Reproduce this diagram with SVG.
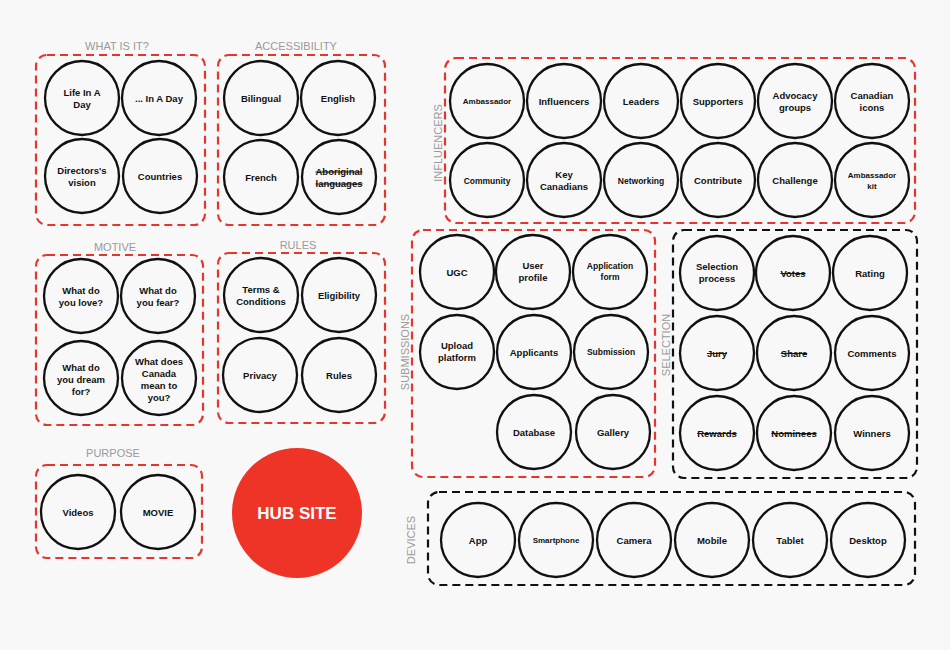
<svg xmlns="http://www.w3.org/2000/svg" width="950" height="650" viewBox="0 0 950 650">
<style>
.bg{fill:#f8f8f8}
.box{fill:none;stroke:#e8352c;stroke-width:2.2;stroke-dasharray:8 5}
.boxk{fill:none;stroke:#111;stroke-width:2.2;stroke-dasharray:8 5}
.c{fill:#f8f8f8;stroke:#111;stroke-width:2.3}
.t{font-family:"Liberation Sans",Arial,sans-serif;font-weight:bold;font-size:9.5px;fill:#111;text-anchor:middle}
.s{font-size:8.5px}
.xs{font-size:8px}
.st{text-decoration:line-through}
.ttl{font-family:"Liberation Sans",Arial,sans-serif;font-size:11px;fill:#9a9a9a;text-anchor:middle}
.hub{fill:#ee3427}
.ht{font-family:"Liberation Sans",Arial,sans-serif;font-weight:bold;font-size:17px;fill:#fff;text-anchor:middle}
</style>
<rect class="bg" x="0" y="0" width="950" height="650"/>

<g id="group-what">
<rect class="box" x="36" y="55" width="169" height="170" rx="11"/>
<text class="ttl" x="117" y="50">WHAT IS IT?</text>
</g>
<g id="n-lifeinaday"><circle class="c" cx="82" cy="98" r="37"/><text class="t" x="82" y="96">Life In A</text><text class="t" x="82" y="108">Day</text></g>
<g id="n-inaday"><circle class="c" cx="159" cy="98" r="37"/><text class="t" x="159" y="101.5">... In A Day</text></g>
<g id="n-directors"><circle class="c" cx="82" cy="176" r="37"/><text class="t" x="82" y="174">Directors's</text><text class="t" x="82" y="186">vision</text></g>
<g id="n-countries"><circle class="c" cx="160" cy="176" r="37"/><text class="t" x="160" y="179.5">Countries</text></g>

<g id="group-access">
<rect class="box" x="218" y="55" width="167" height="170" rx="11"/>
<text class="ttl" x="296" y="50">ACCESSIBILITY</text>
</g>
<g id="n-bilingual"><circle class="c" cx="261" cy="98" r="37"/><text class="t" x="261" y="101.5">Bilingual</text></g>
<g id="n-english"><circle class="c" cx="338" cy="98" r="37"/><text class="t" x="338" y="101.5">English</text></g>
<g id="n-french"><circle class="c" cx="261" cy="177" r="37"/><text class="t" x="261" y="180.5">French</text></g>
<g id="n-aboriginal"><circle class="c" cx="339" cy="177" r="37"/><text class="t st" x="339" y="175">Aboriginal</text><text class="t st" x="339" y="187">languages</text></g>

<g id="group-motive">
<rect class="box" x="36" y="255" width="167" height="170" rx="11"/>
<text class="ttl" x="115" y="251">MOTIVE</text>
</g>
<g id="n-love"><circle class="c" cx="81" cy="296" r="37"/><text class="t" x="81" y="294">What do</text><text class="t" x="81" y="306">you love?</text></g>
<g id="n-fear"><circle class="c" cx="158" cy="296" r="37"/><text class="t" x="158" y="294">What do</text><text class="t" x="158" y="306">you fear?</text></g>
<g id="n-dream"><circle class="c" cx="81" cy="378" r="37"/><text class="t" x="81" y="371">What do</text><text class="t" x="81" y="383">you dream</text><text class="t" x="81" y="395">for?</text></g>
<g id="n-canada"><circle class="c" cx="159" cy="378" r="37"/><text class="t" x="159" y="365">What does</text><text class="t" x="159" y="377">Canada</text><text class="t" x="159" y="389">mean to</text><text class="t" x="159" y="401">you?</text></g>

<g id="group-rules">
<rect class="box" x="218" y="253" width="167" height="170" rx="11"/>
<text class="ttl" x="298" y="249">RULES</text>
</g>
<g id="n-terms"><circle class="c" cx="261" cy="295" r="37"/><text class="t" x="261" y="293">Terms &amp;</text><text class="t" x="261" y="305">Conditions</text></g>
<g id="n-eligibility"><circle class="c" cx="339" cy="295" r="37"/><text class="t" x="339" y="298.5">Eligibility</text></g>
<g id="n-privacy"><circle class="c" cx="260" cy="375" r="37"/><text class="t" x="260" y="378.5">Privacy</text></g>
<g id="n-rules"><circle class="c" cx="339" cy="375" r="37"/><text class="t" x="339" y="378.5">Rules</text></g>

<g id="group-purpose">
<rect class="box" x="36" y="465" width="166" height="93" rx="11"/>
<text class="ttl" x="113" y="457">PURPOSE</text>
</g>
<g id="n-videos"><circle class="c" cx="78" cy="512" r="37"/><text class="t" x="78" y="515.5">Videos</text></g>
<g id="n-movie"><circle class="c" cx="158" cy="512" r="37"/><text class="t" x="158" y="515.5">MOVIE</text></g>

<g id="n-hub"><circle class="hub" cx="297" cy="513" r="65"/><text class="ht" x="297" y="519">HUB SITE</text></g>

<g id="group-influencers">
<rect class="box" x="445" y="58" width="470" height="165" rx="11"/>
<text class="ttl" transform="translate(442 143) rotate(-90)">INFLUENCERS</text>
</g>
<g id="n-ambassador"><circle class="c" cx="487" cy="101" r="37"/><text class="t xs" x="487" y="104">Ambassador</text></g>
<g id="n-influencers"><circle class="c" cx="564" cy="101" r="37"/><text class="t" x="564" y="104.5">Influencers</text></g>
<g id="n-leaders"><circle class="c" cx="641" cy="101" r="37"/><text class="t" x="641" y="104.5">Leaders</text></g>
<g id="n-supporters"><circle class="c" cx="718" cy="101" r="37"/><text class="t" x="718" y="104.5">Supporters</text></g>
<g id="n-advocacy"><circle class="c" cx="795" cy="101" r="37"/><text class="t" x="795" y="99">Advocacy</text><text class="t" x="795" y="111">groups</text></g>
<g id="n-canadianicons"><circle class="c" cx="872" cy="101" r="37"/><text class="t" x="872" y="99">Canadian</text><text class="t" x="872" y="111">icons</text></g>
<g id="n-community"><circle class="c" cx="487" cy="180" r="37"/><text class="t s" x="487" y="183.5">Community</text></g>
<g id="n-keycanadians"><circle class="c" cx="564" cy="180" r="37"/><text class="t" x="564" y="178">Key</text><text class="t" x="564" y="190">Canadians</text></g>
<g id="n-networking"><circle class="c" cx="641" cy="180" r="37"/><text class="t s" x="641" y="183.5">Networking</text></g>
<g id="n-contribute"><circle class="c" cx="718" cy="180" r="37"/><text class="t" x="718" y="183.5">Contribute</text></g>
<g id="n-challenge"><circle class="c" cx="795" cy="180" r="37"/><text class="t" x="795" y="183.5">Challenge</text></g>
<g id="n-ambassadorkit"><circle class="c" cx="872" cy="180" r="37"/><text class="t xs" x="872" y="178">Ambassador</text><text class="t xs" x="872" y="189">kit</text></g>

<g id="group-submissions">
<rect class="box" x="412" y="230" width="243" height="247" rx="11"/>
<text class="ttl" transform="translate(409 352) rotate(-90)">SUBMISSIONS</text>
</g>
<g id="n-ugc"><circle class="c" cx="457" cy="272" r="37"/><text class="t" x="457" y="275.5">UGC</text></g>
<g id="n-userprofile"><circle class="c" cx="533" cy="272" r="37"/><text class="t" x="533" y="269">User</text><text class="t" x="533" y="281">profile</text></g>
<g id="n-appform"><circle class="c" cx="610" cy="272" r="37"/><text class="t s" x="610" y="269">Application</text><text class="t s" x="610" y="280">form</text></g>
<g id="n-upload"><circle class="c" cx="457" cy="352" r="37"/><text class="t" x="457" y="349">Upload</text><text class="t" x="457" y="361">platform</text></g>
<g id="n-applicants"><circle class="c" cx="534" cy="352" r="37"/><text class="t" x="534" y="355.5">Applicants</text></g>
<g id="n-submission"><circle class="c" cx="611" cy="352" r="37"/><text class="t s" x="611" y="355">Submission</text></g>
<g id="n-database"><circle class="c" cx="534" cy="432" r="37"/><text class="t" x="534" y="435.5">Database</text></g>
<g id="n-gallery"><circle class="c" cx="613" cy="432" r="37"/><text class="t" x="613" y="435.5">Gallery</text></g>

<g id="group-selection">
<rect class="boxk" x="673" y="230" width="244" height="248" rx="11"/>
<text class="ttl" transform="translate(670 345) rotate(-90)">SELECTION</text>
</g>
<g id="n-selprocess"><circle class="c" cx="717" cy="273" r="37"/><text class="t" x="717" y="270">Selection</text><text class="t" x="717" y="282">process</text></g>
<g id="n-votes"><circle class="c" cx="793" cy="273" r="37"/><text class="t st" x="793" y="276.5">Votes</text></g>
<g id="n-rating"><circle class="c" cx="870" cy="273" r="37"/><text class="t" x="870" y="276.5">Rating</text></g>
<g id="n-jury"><circle class="c" cx="717" cy="353" r="37"/><text class="t st" x="717" y="356.5">Jury</text></g>
<g id="n-share"><circle class="c" cx="794" cy="353" r="37"/><text class="t st" x="794" y="356.5">Share</text></g>
<g id="n-comments"><circle class="c" cx="872" cy="353" r="37"/><text class="t" x="872" y="356.5">Comments</text></g>
<g id="n-rewards"><circle class="c" cx="717" cy="433" r="37"/><text class="t st" x="717" y="436.5">Rewards</text></g>
<g id="n-nominees"><circle class="c" cx="794" cy="433" r="37"/><text class="t st" x="794" y="436.5">Nominees</text></g>
<g id="n-winners"><circle class="c" cx="872" cy="433" r="37"/><text class="t" x="872" y="436.5">Winners</text></g>

<g id="group-devices">
<rect class="boxk" x="428" y="492" width="487" height="93" rx="11"/>
<text class="ttl" transform="translate(415 540) rotate(-90)">DEVICES</text>
</g>
<g id="n-app"><circle class="c" cx="478" cy="540" r="37"/><text class="t" x="478" y="543.5">App</text></g>
<g id="n-smartphone"><circle class="c" cx="556" cy="540" r="37"/><text class="t xs" x="556" y="542.5">Smartphone</text></g>
<g id="n-camera"><circle class="c" cx="634" cy="540" r="37"/><text class="t" x="634" y="543.5">Camera</text></g>
<g id="n-mobile"><circle class="c" cx="712" cy="540" r="37"/><text class="t" x="712" y="543.5">Mobile</text></g>
<g id="n-tablet"><circle class="c" cx="790" cy="540" r="37"/><text class="t" x="790" y="543.5">Tablet</text></g>
<g id="n-desktop"><circle class="c" cx="868" cy="540" r="37"/><text class="t" x="868" y="543.5">Desktop</text></g>
</svg>
